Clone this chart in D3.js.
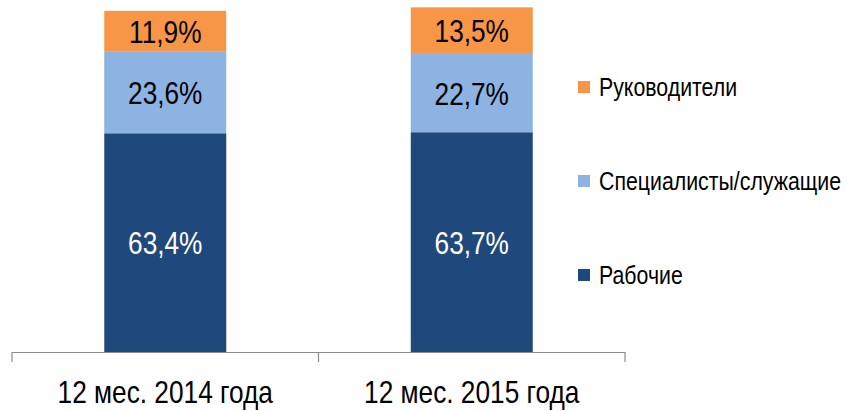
<!DOCTYPE html>
<html lang="ru">
<head>
  <meta charset="UTF-8">
  <script src="https://d3js.org/d3.v7.min.js"></script>
  <style>
    body { margin: 0; background: #fff; }
    svg text { font-family: 'Liberation Sans', Arial, sans-serif; }
  </style>
</head>
<body>
<div id="chart"></div>
<script>
  // data
  let categories = ['12 мес. 2014 года', '12 мес. 2015 года'];
  let seriesNames = ['Рабочие', 'Специалисты/служащие', 'Руководители'];
  let workers = [63.4, 63.7];
  let specialists = [23.6, 22.7];
  let managers = [11.9, 13.5];
  let colors = ['#1F497D', '#8DB3E2', '#F79646'];
  let labelColors = ['#ffffff', '#000000', '#000000'];

  let width = 847, height = 411;
  let baseY = 352;
  let narrow = 0.82;   // squeeze Liberation Sans to look like Arial Narrow

  let rows = categories.map((c, i) => ({
    cat: c,
    'Рабочие': workers[i],
    'Специалисты/служащие': specialists[i],
    'Руководители': managers[i]
  }));
  let stacked = d3.stack().keys(seriesNames)(rows);

  let svg = d3.select('#chart').append('svg')
    .attr('width', width).attr('height', height);

  let x = d3.scaleBand().domain(categories).range([12, 625]);
  let y = d3.scaleLinear().domain([0, 100]).range([baseY, 7]);
  let barW = 122;

  // bars
  let layers = svg.selectAll('g.layer').data(stacked).join('g')
    .attr('class', 'layer')
    .attr('fill', (d, i) => colors[i]);

  layers.selectAll('rect').data(d => d).join('rect')
    .attr('x', d => x(d.data.cat) + (x.bandwidth() - barW) / 2)
    .attr('width', barW)
    .attr('y', d => y(d[1]))
    .attr('height', d => y(d[0]) - y(d[1]));

  // value labels
  stacked.forEach((s, i) => {
    svg.append('g').selectAll('text').data(s).join('text')
      .attr('transform', d => 'translate(' + (x(d.data.cat) + x.bandwidth() / 2) + ','
        + ((y(d[0]) + y(d[1])) / 2) + ') scale(' + narrow + ',1)')
      .attr('dy', '0.36em')
      .attr('text-anchor', 'middle')
      .attr('font-size', 32)
      .attr('fill', labelColors[i])
      .text(d => d3.format('.1f')(d[1] - d[0]).replace('.', ',') + '%');
  });

  // x axis
  let axis = svg.append('g').attr('transform', 'translate(0,' + baseY + ')');
  axis.append('line').attr('x1', 12).attr('x2', 625).attr('y1', 0.5).attr('y2', 0.5)
    .attr('stroke', '#8C8C8C').attr('stroke-width', 1.2);
  let tickPos = [12].concat(categories.map(c => x(c) + x.bandwidth()));
  axis.selectAll('line.tick').data(tickPos).join('line')
    .attr('class', 'tick')
    .attr('x1', d => d).attr('x2', d => d)
    .attr('y1', 0).attr('y2', 10)
    .attr('stroke', '#8C8C8C').attr('stroke-width', 1.2);
  axis.selectAll('text').data(categories).join('text')
    .attr('transform', d => 'translate(' + (x(d) + x.bandwidth() / 2) + ',51) scale(' + narrow + ',1)')
    .attr('text-anchor', 'middle')
    .attr('font-size', 32)
    .attr('fill', '#000')
    .text(d => d);

  // legend (top to bottom: managers, specialists, workers)
  let legendOrder = [2, 1, 0];
  let legend = svg.append('g').selectAll('g').data(legendOrder).join('g')
    .attr('transform', (d, i) => 'translate(578,' + (87 + i * 94) + ')');
  legend.append('rect')
    .attr('x', 0).attr('y', -6).attr('width', 12).attr('height', 12)
    .attr('fill', d => colors[d]);
  legend.append('text')
    .attr('transform', 'translate(21,0) scale(' + narrow + ',1)')
    .attr('dy', '0.36em')
    .attr('font-size', 26)
    .attr('fill', '#000')
    .text(d => seriesNames[d]);
</script>
</body>
</html>
